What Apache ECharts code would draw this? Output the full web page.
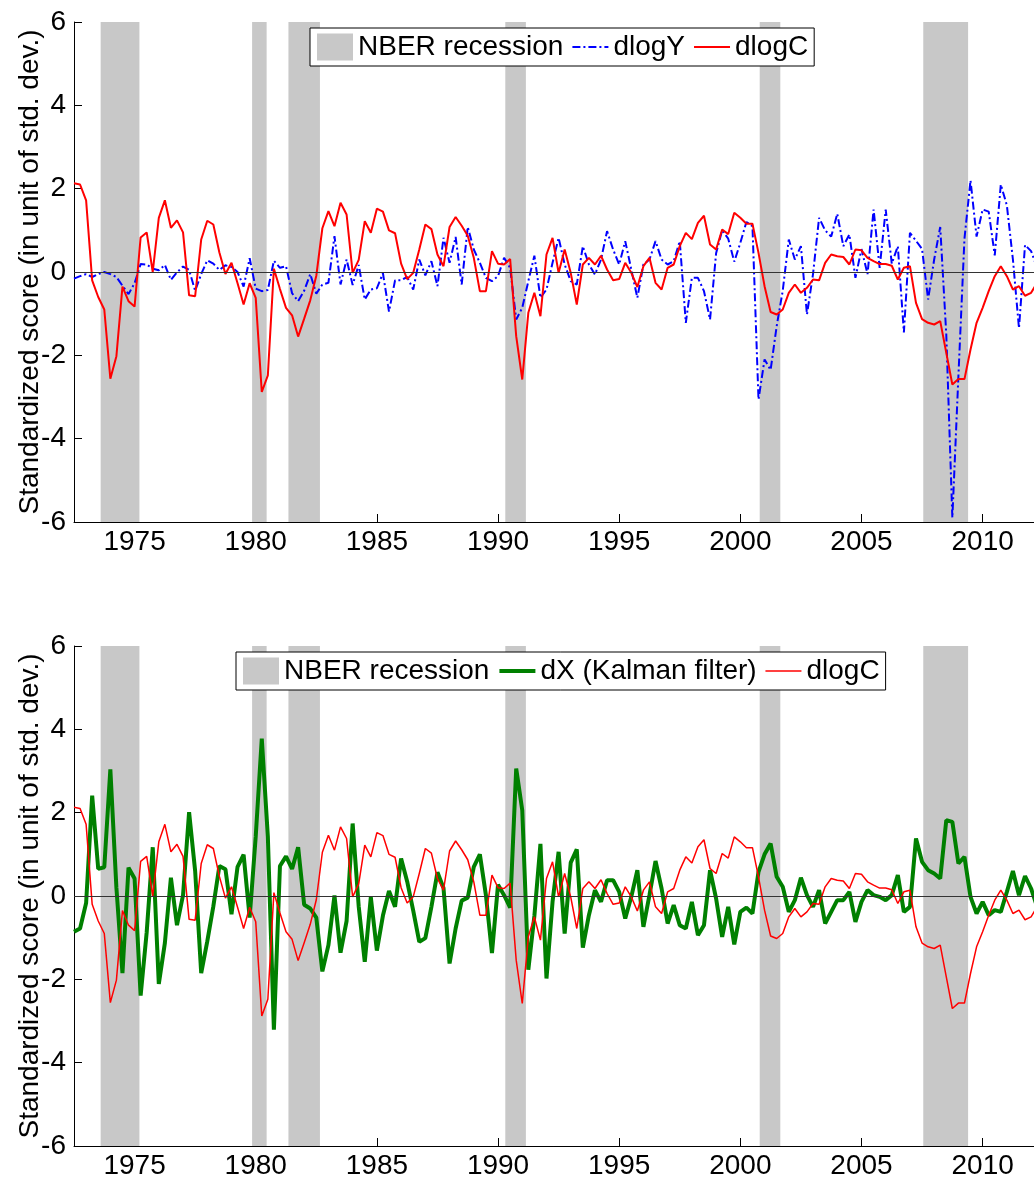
<!DOCTYPE html>
<html>
<head>
<meta charset="utf-8">
<script src="https://cdn.jsdelivr.net/npm/echarts@6/dist/echarts.min.js"></script>
<style>
html, body { margin: 0; padding: 0; background: #fff; }
#main { width: 1034px; height: 1179px; }
</style>
</head>
<body>
<div id="main"></div>
<script>
// quarterly data, first observation at 1972.5
const startYear = 1972.5;
const yearTicks = [1975, 1980, 1985, 1990, 1995, 2000, 2005, 2010];
const recessions = [
    [1973.6, 1975.2], [1979.85, 1980.45], [1981.35, 1982.65],
    [1990.3, 1991.15], [2000.8, 2001.65], [2007.55, 2009.4]
];

const dlogC = [
    2.13, 2.1, 1.72, -0.2, -0.6, -0.9, -2.56, -2.02, -0.35, -0.7,
    -0.83, 0.83, 0.95, 0.0, 1.3, 1.72, 1.06, 1.24, 0.95, -0.56,
    -0.58, 0.78, 1.23, 1.14, 0.47, -0.05, 0.22, -0.27, -0.78, -0.27,
    -0.62, -2.88, -2.48, 0.08, -0.41, -0.86, -1.04, -1.55, -1.12, -0.68,
    -0.09, 1.05, 1.46, 1.1, 1.66, 1.38, -0.02, 0.29, 1.22, 0.94,
    1.52, 1.45, 1.0, 0.93, 0.2, -0.17, -0.02, 0.54, 1.14, 1.03,
    0.42, 0.14, 1.08, 1.32, 1.11, 0.87, 0.34, -0.46, -0.46, 0.5,
    0.2, 0.18, 0.31, -1.54, -2.58, -0.98, -0.5, -1.06, 0.42, 0.82,
    -0.02, 0.54, -0.02, -0.78, 0.18, 0.34, 0.18, 0.39, 0.06, -0.2,
    -0.17, 0.22, -0.02, -0.36, 0.14, 0.34, -0.26, -0.42, 0.1, 0.18,
    0.62, 0.94, 0.79, 1.18, 1.35, 0.66, 0.54, 1.02, 0.91, 1.42,
    1.3, 1.16, 1.16, 0.46, -0.34, -0.96, -1.02, -0.9, -0.5, -0.3,
    -0.5, -0.38, -0.18, -0.2, 0.22, 0.42, 0.38, 0.36, 0.18, 0.54,
    0.52, 0.34, 0.26, 0.19, 0.19, 0.15, -0.18, 0.1, 0.14, -0.74,
    -1.13, -1.22, -1.26, -1.18, -1.94, -2.7, -2.57, -2.57, -1.86, -1.22,
    -0.86, -0.46, -0.1, 0.14, -0.1, -0.42, -0.34, -0.57, -0.5, -0.26
];

const dlogY = [
    -0.16, -0.1, -0.05, -0.12, -0.05, 0.0, -0.05, -0.12, -0.33, -0.53,
    -0.27, 0.19, 0.18, 0.08, 0.04, 0.17, -0.19, -0.01, 0.13, 0.05,
    -0.45, -0.05, 0.28, 0.2, 0.05, 0.16, 0.12, 0.0, -0.35, 0.33,
    -0.4, -0.46, -0.43, 0.27, 0.1, 0.14, -0.51, -0.7, -0.45, -0.05,
    -0.52, -0.3, -0.26, 0.86, -0.3, 0.3, -0.31, 0.17, -0.66, -0.42,
    -0.39, -0.03, -0.95, -0.2, -0.2, -0.12, -0.42, 0.3, -0.08, 0.26,
    -0.34, 0.82, 0.22, 0.84, -0.3, 1.08, 0.54, 0.22, -0.14, -0.22,
    -0.1, 0.34, 0.1, -1.14, -0.86, -0.22, 0.39, -0.62, -0.42, 0.22,
    0.82, 0.18, -0.22, -0.3, 0.62, 0.18, -0.06, 0.3, 0.98, 0.54,
    0.18, 0.74, 0.06, -0.62, 0.18, 0.3, 0.74, 0.3, 0.18, 0.26,
    0.74, -1.22, -0.14, -0.14, -0.46, -1.14, 0.45, 1.0, 0.8, 0.25,
    0.7, 1.2, 1.1, -3.06, -2.1, -2.35, -1.3, -0.45, 0.78, 0.3,
    0.62, -1.02, -0.05, 1.3, 1.0, 0.85, 1.4, 0.62, 0.9, -0.14,
    0.55, -0.05, 1.5, 0.1, 1.5, 0.2, 0.62, -1.45, 0.94, 0.75,
    0.55, -0.66, 0.3, 1.08, -1.5, -5.9, -2.5, 0.8, 2.2, 0.85,
    1.5, 1.45, 0.4, 2.1, 1.6, 0.3, -1.35, 0.65, 0.5, 0.1
];

const dX = [
    -0.86, -0.78, -0.17, 2.41, 0.65, 0.69, 3.04, 0.2, -1.85, 0.68,
    0.42, -2.39, -0.87, 1.17, -2.11, -1.13, 0.44, -0.7, 0.02, 2.01,
    0.6, -1.85, -1.09, -0.25, 0.72, 0.64, -0.44, 0.7, 0.99, -0.52,
    1.43, 3.78, 1.43, -3.21, 0.72, 0.95, 0.65, 1.17, -0.21, -0.3,
    -0.52, -1.81, -1.18, 0.01, -1.36, -0.6, 1.74, -0.25, -1.58, -0.03,
    -1.31, -0.47, 0.12, -0.26, 0.9, 0.35, -0.35, -1.1, -1.01, -0.26,
    0.57, 0.19, -1.62, -0.78, -0.11, -0.04, 0.7, 1.0, 0.02, -1.37,
    0.27, 0.02, -0.28, 3.06, 2.06, -1.77, -0.48, 1.25, -1.98, -0.14,
    1.06, -0.9, 0.8, 1.12, -1.24, -0.46, 0.14, -0.14, 0.38, 0.38,
    0.1, -0.54, -0.02, 0.62, -0.74, 0.02, 0.84, 0.18, -0.66, -0.22,
    -0.7, -0.78, -0.14, -0.94, -0.7, 0.62, -0.06, -0.98, -0.26, -1.16,
    -0.38, -0.28, -0.42, 0.58, 1.0, 1.26, 0.46, 0.22, -0.38, -0.1,
    0.44, 0.02, -0.26, 0.14, -0.66, -0.38, -0.1, -0.1, 0.1, -0.62,
    -0.14, 0.14, 0.02, -0.02, -0.1, 0.02, 0.5, -0.38, -0.26, 1.38,
    0.82, 0.62, 0.54, 0.42, 1.82, 1.78, 0.78, 0.94, -0.02, -0.42,
    -0.14, -0.46, -0.34, -0.38, 0.1, 0.6, 0.02, 0.48, 0.18, -0.26
];

const FONT = "'Liberation Sans', Arial, sans-serif";
const GRAY = "#c8c8c8";

function toPoints(vals) {
    return vals.map((v, i) => [startYear + i * 0.25, v]);
}

function xAxisFor(i) {
    return {
        type: "value", gridIndex: i, min: 1972.5, max: 2012.12,
        axisLine: { show: true, onZero: false, lineStyle: { color: "#000", width: 1 } },
        axisTick: { show: true, inside: true, length: 8, customValues: yearTicks, lineStyle: { color: "#000" } },
        axisLabel: {
            customValues: yearTicks, fontSize: 28, fontFamily: FONT, color: "#000", margin: 6,
            formatter: (v) => String(v),
        },
        splitLine: { show: false },
    };
}

function yAxisFor(i) {
    return {
        type: "value", gridIndex: i, min: -6, max: 6, interval: 2,
        name: "Standardized score (in unit of std. dev.)",
        nameLocation: "middle", nameGap: 30, nameRotate: 90, nameMoveOverlap: false,
        nameTextStyle: { fontSize: 28, fontFamily: FONT, color: "#000" },
        axisLine: { show: true, lineStyle: { color: "#000", width: 1 } },
        axisTick: { show: true, inside: true, length: 8, lineStyle: { color: "#000" } },
        axisLabel: { fontSize: 28, fontFamily: FONT, color: "#000", margin: 8 },
        splitLine: { show: false },
    };
}

function bandSeries(i) {
    return {
        name: "NBER recession", type: "line", xAxisIndex: i, yAxisIndex: i,
        data: [], symbol: "none", color: GRAY, z: 1,
        markArea: {
            silent: true,
            itemStyle: { color: GRAY, opacity: 1 },
            data: recessions.map((r) => [{ xAxis: r[0] }, { xAxis: r[1] }]),
        },
    };
}

function zeroSeries(i) {
    return {
        name: "zero" + i, type: "line", xAxisIndex: i, yAxisIndex: i,
        data: [], symbol: "none", z: 2,
        markLine: {
            silent: true, symbol: ["none", "none"], label: { show: false },
            lineStyle: { color: "#333", width: 1, type: "solid" },
            data: [{ yAxis: 0 }],
        },
    };
}

// line entries in the legend: keep the stroke, hide the round marker
function lineItem(name, width) {
    const item = { name: name, itemStyle: { color: "rgba(0,0,0,0)", borderColor: "rgba(0,0,0,0)", borderWidth: 0 } };
    if (width) item.lineStyle = { width: width };
    return item;
}

function legendFor(left, top, items) {
    return {
        left: left, top: top, orient: "horizontal",
        data: [{ name: "NBER recession", icon: "rect" }].concat(items),
        itemWidth: 36, itemHeight: 27, itemGap: 8,
        textStyle: { fontSize: 28, fontFamily: FONT, color: "#000" },
        borderColor: "#000", borderWidth: 1, backgroundColor: "#fff",
        padding: [5, 6, 5, 7], selectedMode: false,
    };
}

const chart = echarts.init(document.getElementById("main"));
chart.setOption({
    animation: false,
    backgroundColor: "#fff",
    grid: [
        { left: 74, top: 22, right: 0, height: 500, outerBoundsMode: "none" },
        { left: 74, top: 646, right: 0, height: 500, outerBoundsMode: "none" },
    ],
    xAxis: [xAxisFor(0), xAxisFor(1)],
    yAxis: [yAxisFor(0), yAxisFor(1)],
    legend: [
        legendFor(310, 28, [lineItem("dlogY"), lineItem("dlogC")]),
        legendFor(236, 652, [lineItem("dX (Kalman filter)", 4), lineItem("dlogC", 1.5)]),
    ],
    series: [
        bandSeries(0),
        zeroSeries(0),
        {
            name: "dlogY", type: "line", xAxisIndex: 0, yAxisIndex: 0,
            data: toPoints(dlogY), symbol: "none", color: "#0000ff", z: 3,
            lineStyle: { color: "#0000ff", width: 2, type: [8, 3, 2, 3] },
        },
        {
            name: "dlogC", type: "line", xAxisIndex: 0, yAxisIndex: 0,
            data: toPoints(dlogC), symbol: "none", color: "#ff0000", z: 4,
            lineStyle: { color: "#ff0000", width: 2 },
        },
        bandSeries(1),
        zeroSeries(1),
        {
            name: "dX (Kalman filter)", type: "line", xAxisIndex: 1, yAxisIndex: 1,
            data: toPoints(dX), symbol: "none", color: "#008000", z: 3,
            lineStyle: { color: "#008000", width: 4 },
        },
        {
            name: "dlogC", type: "line", xAxisIndex: 1, yAxisIndex: 1,
            data: toPoints(dlogC), symbol: "none", color: "#ff0000", z: 4,
            lineStyle: { color: "#ff0000", width: 1.5 },
        },
    ],
});
</script>
</body>
</html>
